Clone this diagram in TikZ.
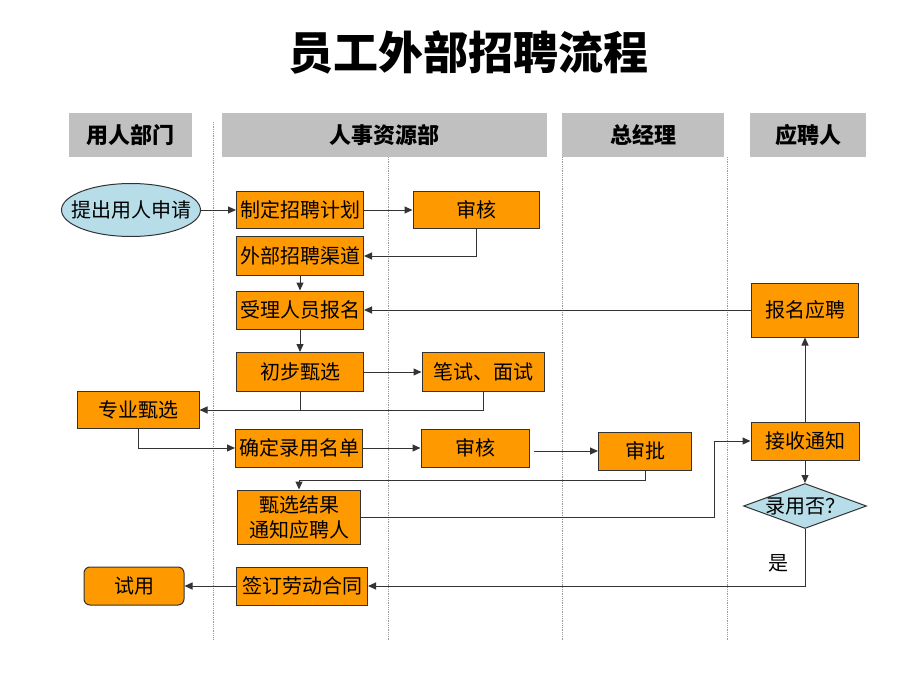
\documentclass[tikz,border=0pt]{standalone}
\usepackage{fontspec}
\setmainfont{Noto Sans CJK SC}
\usetikzlibrary{shapes.geometric, arrows.meta}
\definecolor{boxorange}{HTML}{FF9900}
\definecolor{paleblue}{HTML}{B7DEE8}
\definecolor{headgray}{HTML}{C0C0C0}
\tikzstyle{stepbox} = [rectangle, minimum width=127pt, minimum height=38pt, inner sep=1pt, align=center, draw=black!80, line width=1pt, fill=boxorange, font=\fontsize{20}{25}\selectfont]
\tikzstyle{startnode} = [ellipse, minimum width=139pt, minimum height=53pt, inner xsep=-16pt, inner ysep=0pt, align=center, draw=black!80, line width=1pt, fill=paleblue, font=\fontsize{20}{25}\selectfont]
\tikzstyle{decision} = [diamond, aspect=2.7, minimum width=123pt, minimum height=45pt, inner sep=-4pt, align=center, draw=black!80, line width=1pt, fill=paleblue, font=\fontsize{20}{25}\selectfont]
\tikzstyle{lanehead} = [rectangle, minimum height=44pt, align=center, fill=headgray, font=\fontsize{22}{24}\selectfont\bfseries]
\tikzstyle{lane} = [black!40, densely dotted, line width=0.8pt]
\tikzstyle{connector} = [line width=1pt, draw=black!80, -{Triangle[length=8pt,width=7pt]}]
\tikzstyle{plainline} = [line width=1pt, draw=black!80]

\begin{document}
\begin{tikzpicture}[x=1pt, y=-1pt]

  % Canvas
  \useasboundingbox[fill=white] (0,0) rectangle (920,690);

  % Title
  \node (title) at (468,52) [font=\fontsize{45}{50}\selectfont\bfseries] {员工外部招聘流程};

  % Lane headers
  \node (dept) at (130,135) [lanehead, minimum width=123pt] {用人部门};
  \node (hr) at (384,135) [lanehead, minimum width=325pt] {人事资源部};
  \node (gm) at (643,135) [lanehead, minimum width=162pt] {总经理};
  \node (cand) at (808,135) [lanehead, minimum width=116pt] {应聘人};

  % Lane separators
  \draw[lane] (213,122) -- (213,640);
  \draw[lane] (388,157) -- (388,640);
  \draw[lane] (562,157) -- (562,640);
  \draw[lane] (727,157) -- (727,640);

  % Left column
  \node (request) at (131,210) [startnode] {提出用人申请};
  \node (profsel) at (138,410) [stepbox, minimum width=122pt, minimum height=37pt] {专业甄选};
  \node (trial) at (134,586) [stepbox, rounded corners=6pt, minimum width=100pt] {试用};

  % HR column
  \node (plan) at (300,210) [stepbox, minimum height=37pt] {制定招聘计划};
  \node (channel) at (300,256) [stepbox, minimum height=39pt] {外部招聘渠道};
  \node (accept) at (300,310) [stepbox] {受理人员报名};
  \node (prelim) at (300,372) [stepbox, minimum height=39pt] {初步甄选};
  \node (namelist) at (299,448) [stepbox] {确定录用名单};
  \node (notify) at (299,517) [stepbox, minimum width=123pt, minimum height=54pt] {甄选结果\\通知应聘人};
  \node (contract) at (302,586) [stepbox, minimum width=131pt] {签订劳动合同};

  \node (review) at (476,210) [stepbox, minimum width=126pt, minimum height=37pt] {审核};
  \node (exam) at (483,372) [stepbox, minimum width=122pt, minimum height=39pt] {笔试、面试};
  \node (recheck) at (475,448) [stepbox, minimum width=108pt] {审核};

  % Manager column
  \node (approve) at (645,451) [stepbox, minimum width=93pt] {审批};

  % Candidate column
  \node (register) at (805,310) [stepbox, minimum width=107pt, minimum height=54pt] {报名应聘};
  \node (receive) at (805,441) [stepbox, minimum width=108pt] {接收通知};
  \node (hired) at (805,506) [decision] {录用否？};
  \node (yes) at (778,563) [font=\fontsize{20}{25}\selectfont] {是};

  % Planning
  \draw[connector] (request) -- (plan);
  \draw[connector] (plan) -- (review);
  \draw[connector] (review.south) |- (channel.east);
  \draw[connector] (channel) -- (accept);
  \draw[connector] (register) -- (accept);

  % Screening
  \draw[connector] (accept) -- (prelim);
  \draw[connector] (prelim) -- (exam);
  \draw[plainline] (prelim.south) -- (prelim.south |- profsel.east);
  \draw[connector] (exam.south) |- (profsel.east);

  % Decision
  \draw[connector] (profsel.south) |- (namelist.west);
  \draw[connector] (namelist) -- (recheck);
  \draw[connector] ([xshift=4pt]recheck.east |- approve.west) -- (approve.west);
  \draw[connector] (approve.south) -- ++(0,10) -| (notify.north);
  \draw[connector] (notify.east) -- ++(353,0) |- (receive.west);

  % Candidate reply
  \draw[connector] (receive) -- (register);
  \draw[connector] (receive) -- (hired);
  \draw[connector] (hired.south) |- (contract.east);
  \draw[connector] (contract) -- (trial);

\end{tikzpicture}
\end{document}
